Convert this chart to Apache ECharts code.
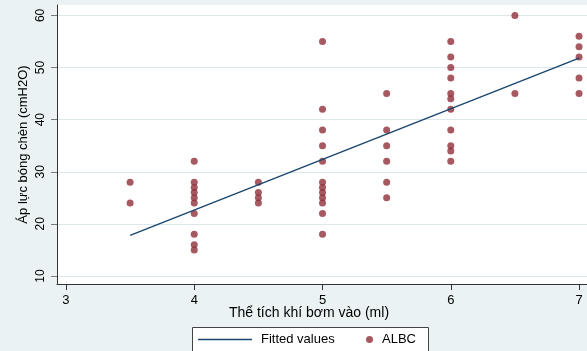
<!DOCTYPE html>
<html>
<head>
<meta charset="utf-8">
<script src="https://cdn.jsdelivr.net/npm/echarts@6/dist/echarts.min.js"></script>
<style>
html,body{margin:0;padding:0;background:#EAF2F3;}
#c{width:587px;height:351px;}
</style>
</head>
<body>
<div id="c"></div>
<script>
// Volumes (ml) and pressures (cmH2O)
const groupX = [3.5, 4, 4.5, 5, 5.5, 6, 6.5, 7];
const groupY = [
  [28, 24],
  [32, 28, 27, 26, 25, 24, 22, 18, 16, 15],
  [28, 26, 25, 24],
  [55, 42, 38, 35, 32, 28, 27, 26, 25, 24, 22, 18],
  [45, 38, 35, 32, 28, 25],
  [55, 52, 50, 48, 45, 44, 42, 38, 35, 34, 32],
  [60, 45],
  [56, 54, 52, 48, 45]
];
const fitX = [3.5, 7];
const fitY = [17.8, 51.8];
const xTicks = [3, 4, 5, 6, 7];
const yTicks = [10, 20, 30, 40, 50, 60];

const albc = [];
groupX.forEach((x, i) => groupY[i].forEach(y => albc.push([x, y])));
const fit = fitX.map((x, i) => [x, fitY[i]]);

const font = '"Liberation Sans", Arial, sans-serif';
const chart = echarts.init(document.getElementById('c'));
chart.setOption({
  backgroundColor: '#EAF2F3',
  animation: false,
  textStyle: { fontFamily: font },
  grid: { left: 57, right: 0, top: 5, bottom: 67, show: true, backgroundColor: '#ffffff', borderWidth: 0 },
  xAxis: {
    type: 'value', min: 2.93, max: 7.062,
    name: 'Thể tích khí bơm vào (ml)', nameLocation: 'middle', nameGap: 22, nameMoveOverlap: false,
    nameTextStyle: { fontSize: 14, color: '#000', fontFamily: font, padding: [0, 26, 0, 0] },
    axisLine: { show: true, onZero: false, lineStyle: { color: '#333', width: 1 } },
    axisTick: { show: true, customValues: xTicks, length: 6, lineStyle: { color: '#333' } },
    axisLabel: { customValues: xTicks, fontSize: 13, color: '#000', margin: 10, fontFamily: font },
    splitLine: { show: false }
  },
  yAxis: {
    type: 'value', min: 8.46, max: 62,
    name: 'Áp lực bóng chèn (cmH2O)', nameLocation: 'middle', nameGap: 27, nameRotate: 90, nameMoveOverlap: false,
    nameTextStyle: { fontSize: 13, color: '#000', fontFamily: font },
    axisLine: { show: true, onZero: false, lineStyle: { color: '#333', width: 1 } },
    axisTick: { show: true, customValues: yTicks, length: 6, lineStyle: { color: '#777' } },
    axisLabel: { customValues: yTicks, fontSize: 12, color: '#000', rotate: 90, margin: 10, fontFamily: font },
    splitLine: { show: true, lineStyle: { color: '#DDE8EB', width: 1 } }
  },
  legend: [
    {
      data: [{ name: 'Fitted values', icon: 'rect', itemStyle: { color: '#1A476F' } }],
      left: 198, top: 333, padding: 0, itemWidth: 54, itemHeight: 1.5,
      textStyle: { fontSize: 13, color: '#000', fontFamily: font, padding: [0, 0, 0, 4] }
    },
    {
      data: [{ name: 'ALBC', icon: 'circle' }],
      left: 366, top: 333, padding: 0, itemWidth: 7, itemHeight: 7,
      textStyle: { fontSize: 13, color: '#000', fontFamily: font, padding: [0, 0, 0, 4] }
    }
  ],
  graphic: [{
    type: 'rect', left: 192, top: 327, shape: { width: 236, height: 30 },
    style: { fill: '#ffffff', stroke: '#444', lineWidth: 1 }, z: -1, silent: true
  }],
  series: [
    {
      name: 'Fitted values', type: 'line', data: fit, symbol: 'none',
      lineStyle: { color: '#1A476F', width: 1.5 }, itemStyle: { color: '#1A476F' }, z: 3
    },
    {
      name: 'ALBC', type: 'scatter', data: albc, symbol: 'circle', symbolSize: 7,
      itemStyle: { color: '#8E3039' }, z: 2
    }
  ]
});
</script>
</body>
</html>
